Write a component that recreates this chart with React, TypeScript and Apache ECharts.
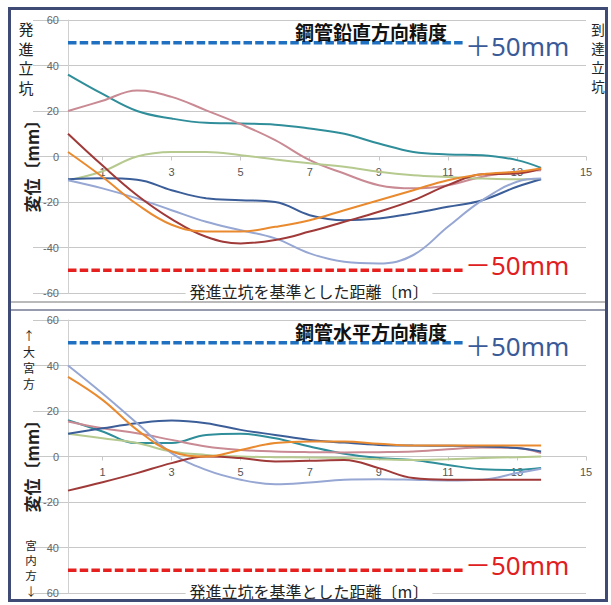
import React, { useEffect, useRef } from "react";
import * as echarts from "echarts";

// distance from launch shaft [m]
const distances = [0, 1, 2, 3, 4, 5, 6, 7, 8, 9, 10, 11, 12, 13, 13.7];
const xTickValues = [1, 3, 5, 7, 9, 11, 13, 15];
const limitX = [0, 11.45];
const upperLimit = 50;
const lowerLimit = -50;

// 鋼管鉛直方向精度 (vertical)
const vTeal = [36, 27.5, 20, 16.7, 14.8, 14.5, 14, 12.3, 10, 5.7, 2, 0.9, 0.6, -1.6, -5];
const vPink = [20, 24.5, 29, 26.2, 20.3, 14.2, 7.2, -1.6, -7.5, -12.6, -14, -12.6, -8.9, -6.7, -6];
const vGreen = [-10.5, -6.5, 0, 2, 2, 0.6, -1.3, -3, -4.5, -6.7, -8.2, -9, -9.7, -10, -10];
const vNavy = [-10, -9.6, -10.2, -14.8, -18.4, -19.2, -20, -25.8, -28, -27.2, -25, -22.1, -19.2, -13.3, -10];
const vPeriwinkle = [-10.4, -14, -18.4, -23.6, -28.7, -32.4, -36, -42.6, -46.3, -47, -43.3, -30.9, -19.2, -11.1, -9.7];
const vMaroon = [10, -4, -17, -27.5, -35.3, -38.2, -36.7, -33, -28.7, -24.3, -19.2, -12.6, -7.8, -7.5, -5.3];
const vOrange = [2, -9, -21, -30, -33, -33, -30.9, -28, -23.6, -19.2, -14.8, -10.4, -7.8, -6.7, -5.3];

// 鋼管水平方向精度 (horizontal)
const hPeriwinkle = [40, 27.7, 14.6, 1.5, -5.9, -10.2, -12.2, -11.4, -10.2, -10, -10.2, -10.5, -10.2, -7.3, -5.4];
const hOrange = [35, 24.9, 11.7, 2.2, 0, 2.9, 5.9, 6.6, 6.6, 5.6, 4.8, 4.8, 4.8, 4.8, 4.8];
const hNavy = [10, 12.4, 14.6, 15.8, 14.6, 11.7, 9.5, 7.3, 6.1, 5.1, 4.8, 4.7, 4.4, 3.7, 2.2];
const hTeal = [16, 11, 5.9, 5.9, 9.5, 10, 8, 4.4, 1.2, -0.7, -1.5, -3.7, -5.6, -5.9, -5.1];
const hPink = [15.4, 12.4, 10.2, 7.3, 4.4, 2.9, 2.2, 1.9, 1.8, 1.9, 2.2, 3.2, 4, 3.7, 1.5];
const hGreen = [10, 8, 5.9, 2.2, 0.7, 0, -0.3, -0.4, -0.7, -1.2, -1.5, -1.2, -0.7, -0.3, 0];
const hMaroon = [-15, -11.3, -7.3, -2.9, 0, -0.7, -2.2, -1.9, -1.5, -5.1, -9.5, -10.2, -10.2, -10.2, -10.2];

const COLORS = {
  teal: "#2f8e9a",
  pink: "#c98a94",
  green: "#b6ca8f",
  navy: "#3b5e99",
  periwinkle: "#97a7d3",
  maroon: "#9f3a39",
  orange: "#e98a2f",
};

const JP = '"Noto Sans CJK JP", "Noto Sans", sans-serif';
const GRID_H = 273;

function buildLines(
  idx: number,
  list: { name: string; color: string; values: number[] }[]
) {
  return list.map((s) => ({
    type: "line",
    name: s.name,
    xAxisIndex: idx,
    yAxisIndex: idx,
    smooth: 0.4,
    showSymbol: false,
    symbol: "none",
    data: s.values.map((v, i) => [distances[i], v]),
    lineStyle: { color: s.color, width: 2 },
    itemStyle: { color: s.color },
    z: 3,
  }));
}

function limitLines(idx: number) {
  return [
    {
      type: "line",
      name: "+50mm",
      xAxisIndex: idx,
      yAxisIndex: idx,
      symbol: "none",
      data: limitX.map((x) => [x, upperLimit]),
      lineStyle: { color: "#1f70c0", width: 3.5, type: [8.5, 3.2] },
      z: 4,
    },
    {
      type: "line",
      name: "-50mm",
      xAxisIndex: idx,
      yAxisIndex: idx,
      symbol: "none",
      data: limitX.map((x) => [x, lowerLimit]),
      lineStyle: { color: "#e5201f", width: 3.5, type: [8.5, 3.2] },
      z: 4,
    },
  ];
}

function vStack(chars: string, x: number, y0: number, step: number, size: number) {
  return Array.from(chars).map((c, i) => ({
    type: "text",
    x,
    y: y0 + i * step,
    z: 100,
    style: {
      text: c,
      font: `${size}px ${JP}`,
      fill: "#222",
      align: "center",
      verticalAlign: "middle",
    },
  }));
}

function panelTexts(off: number, top: boolean) {
  const els: any[] = [];
  if (top) {
    els.push(...vStack("発進立坑", 26, off + 28.5, 19.5, 15));
    els.push(...vStack("到達立坑", 598, off + 28.5, 19, 13.5));
  } else {
    els.push(...vStack("↑大宮方", 29, off + 35, 16, 12));
    els.push(...vStack("宮内方↓", 31, off + 245, 15.2, 11.5));
  }
  els.push({
    type: "text", x: 31, y: off + 162, rotation: Math.PI / 2, z: 100,
    style: { text: "変位〔mm〕", font: `bold 17px ${JP}`, fill: "#222", align: "center", verticalAlign: "middle" },
  });
  els.push({
    type: "text", x: 465, y: off + 46, z: 100,
    style: { text: "＋50mm", font: `26px "Noto Sans", ${JP}`, fill: "#3a5a98", align: "left", verticalAlign: "middle" },
  });
  els.push({
    type: "text", x: 465, y: off + 265, z: 100,
    style: { text: "－50mm", font: `26px "Noto Sans", ${JP}`, fill: "#e0201f", align: "left", verticalAlign: "middle" },
  });
  els.push({
    type: "text", x: 309, y: off + 291, z: 100,
    style: {
      text: "発進立坑を基準とした距離〔m〕", font: `16px ${JP}`, fill: "#222",
      align: "center", verticalAlign: "middle", backgroundColor: "#fff", padding: [1, 4],
    },
  });
  return els;
}

function axisPair(idx: number, bottom: boolean) {
  const x = {
    type: "value",
    gridIndex: idx,
    min: 0,
    max: 15,
    position: "bottom",
    offset: -GRID_H / 2,
    axisLine: { show: true, onZero: false, lineStyle: { color: "#c8c8c8", width: 1 } },
    axisTick: { show: true, customValues: xTickValues, length: 4, lineStyle: { color: "#c8c8c8" } },
    axisLabel: {
      customValues: xTickValues,
      color: "#555",
      fontSize: 11,
      margin: 10,
      fontFamily: "Liberation Sans",
    },
    splitLine: { show: false },
  };
  const y = {
    type: "value",
    gridIndex: idx,
    min: -60,
    max: 60,
    interval: 20,
    axisLine: { show: true, onZero: false, lineStyle: { color: "#d0d0d0", width: 1 } },
    axisTick: { show: true, length: 35, lineStyle: { color: "#c8c8c8", width: 1.2 } },
    axisLabel: {
      color: "#666",
      fontSize: 11,
      margin: 9,
      fontFamily: "Liberation Sans",
      formatter: (v: number) => (bottom && v < -20 ? String(-v) : String(v)),
    },
    splitLine: { show: true, lineStyle: { color: "#c8c8c8", width: 1.2 } },
  };
  return { x, y };
}

export default function App() {
  const ref = useRef<HTMLDivElement>(null);
  useEffect(() => {
    if (!ref.current) return;
    const chart = echarts.init(ref.current, undefined, { renderer: "svg" });
    const a0 = axisPair(0, false);
    const a1 = axisPair(1, true);
    const option: any = {
      animation: false,
      backgroundColor: "#fff",
      title: [
        {
          text: "鋼管鉛直方向精度",
          left: 366,
          top: 17,
          textAlign: "center",
          textStyle: { fontSize: 19, fontWeight: "bold", color: "#111", fontFamily: JP },
        },
        {
          text: "鋼管水平方向精度",
          left: 366,
          top: 317,
          textAlign: "center",
          textStyle: { fontSize: 19, fontWeight: "bold", color: "#111", fontFamily: JP },
        },
      ],
      grid: [
        { left: 68, top: 20, width: 518, height: GRID_H },
        { left: 68, top: 320, width: 518, height: GRID_H },
      ],
      xAxis: [a0.x, a1.x],
      yAxis: [a0.y, a1.y],
      series: [
        ...buildLines(0, [
          { name: "teal", color: COLORS.teal, values: vTeal },
          { name: "pink", color: COLORS.pink, values: vPink },
          { name: "green", color: COLORS.green, values: vGreen },
          { name: "navy", color: COLORS.navy, values: vNavy },
          { name: "periwinkle", color: COLORS.periwinkle, values: vPeriwinkle },
          { name: "maroon", color: COLORS.maroon, values: vMaroon },
          { name: "orange", color: COLORS.orange, values: vOrange },
        ]),
        ...limitLines(0),
        ...buildLines(1, [
          { name: "teal", color: COLORS.teal, values: hTeal },
          { name: "pink", color: COLORS.pink, values: hPink },
          { name: "green", color: COLORS.green, values: hGreen },
          { name: "navy", color: COLORS.navy, values: hNavy },
          { name: "periwinkle", color: COLORS.periwinkle, values: hPeriwinkle },
          { name: "maroon", color: COLORS.maroon, values: hMaroon },
          { name: "orange", color: COLORS.orange, values: hOrange },
        ]),
        ...limitLines(1),
      ],
      graphic: [
        ...panelTexts(0, true),
        ...panelTexts(300, false),
        {
          type: "line", z: 101,
          shape: { x1: 9, y1: 302, x2: 607, y2: 302 },
          style: { stroke: "#a3a3a3", lineWidth: 1.5 },
        },
        {
          type: "line", z: 101,
          shape: { x1: 9, y1: 310, x2: 607, y2: 310 },
          style: { stroke: "#737a92", lineWidth: 1.5 },
        },
        {
          type: "rect", z: 102,
          shape: { x: 9.5, y: 8.5, width: 597, height: 592 },
          style: { fill: "none", stroke: "#3f4b75", lineWidth: 3 },
        },
      ],
    };
    chart.setOption(option);
    return () => chart.dispose();
  }, []);
  return (
    <div
      ref={ref}
      style={{ position: "absolute", left: 0, top: 0, width: 611, height: 605 }}
    />
  );
}
